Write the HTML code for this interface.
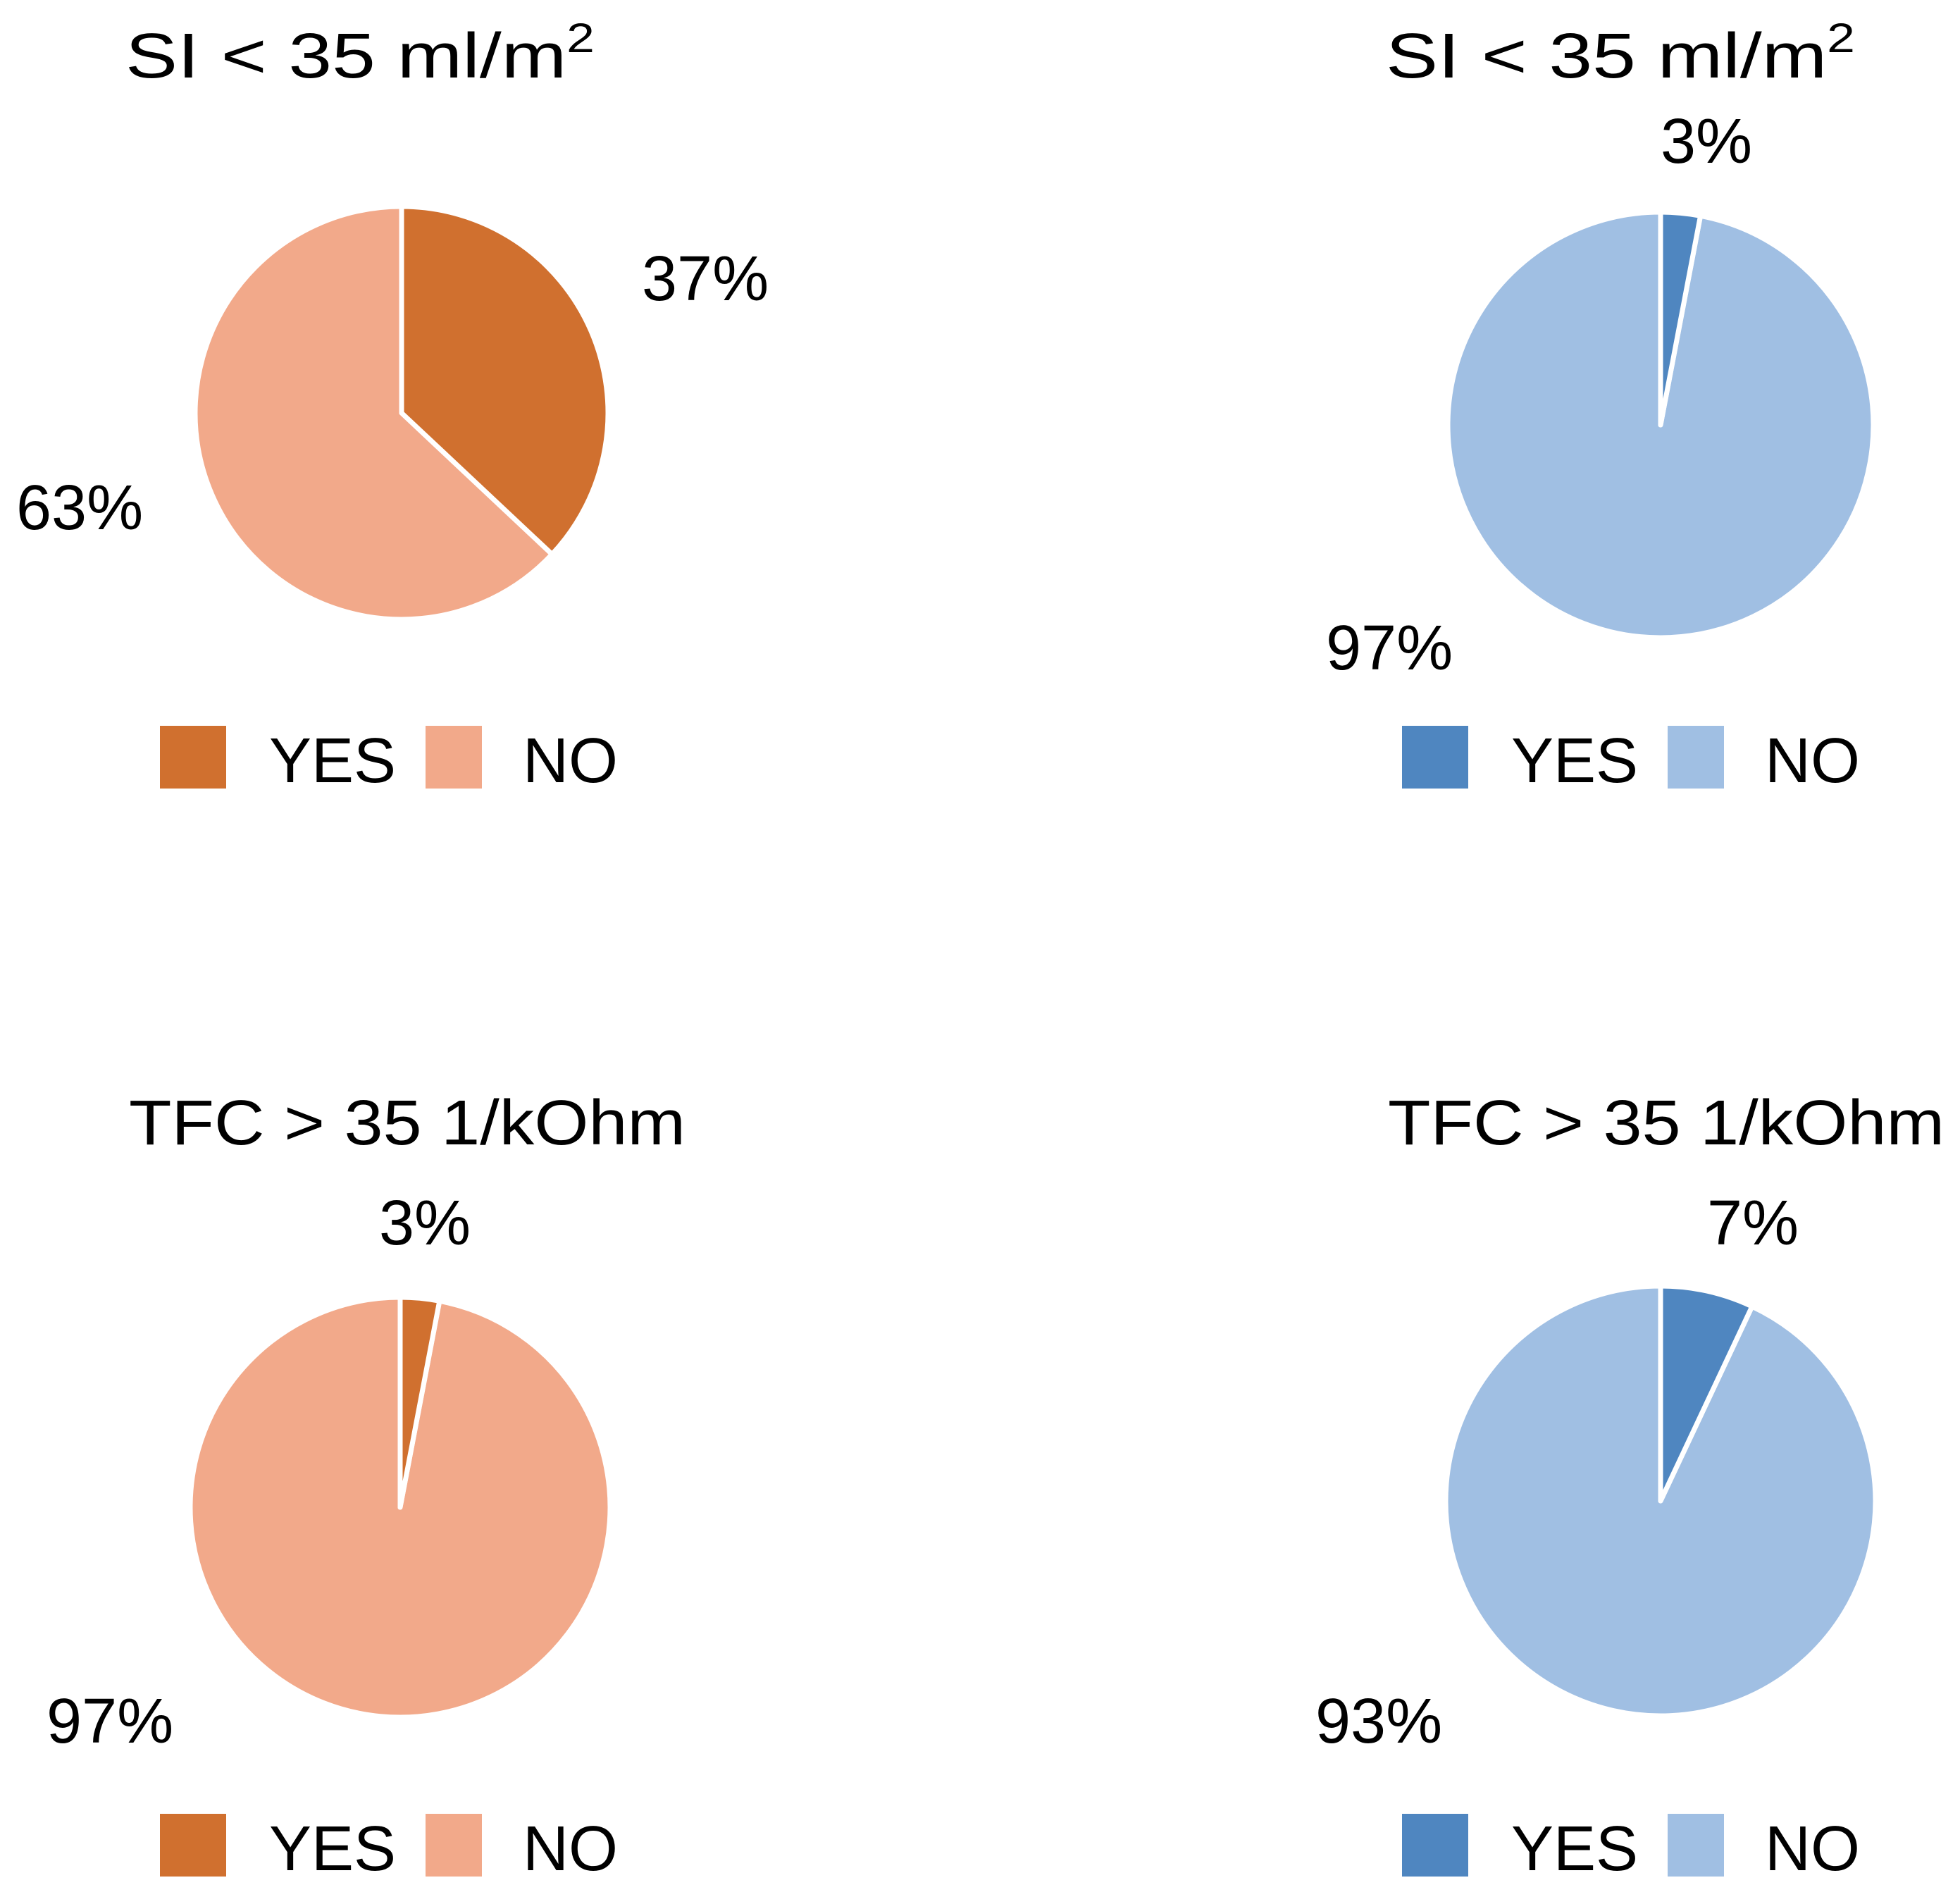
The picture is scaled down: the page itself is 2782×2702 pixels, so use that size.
<!DOCTYPE html>
<html><head><meta charset="utf-8"><style>
html,body{margin:0;padding:0;background:#fff;}
svg{display:block;font-family:"Liberation Sans",sans-serif;}
</style></head><body>
<svg id="chart" width="2782" height="2702" viewBox="0 0 2782 2702">
<rect width="2782" height="2702" fill="#fff"/>
</svg>
<script>
const titles = ["SI < 35 ml/m", "SI < 35 ml/m", "TFC > 35 1/kOhm", "TFC > 35 1/kOhm"];
const yesValues = [37, 3, 3, 7];
const noValues = [63, 97, 97, 93];
const categories = ["YES", "NO"];
const palettes = [["#d0702f","#f2a98a"],["#4f86c0","#a0bfe3"],["#d0702f","#f2a98a"],["#4f86c0","#a0bfe3"]];
const panels = [
 {cx:570,cy:586,r:293,tx:178,ty:110,tw:666,sup:true,yl:[911,426],nl:[23,751],lx:227,ly:1030},
 {cx:2357,cy:603,r:302,tx:1967,ty:110,tw:666,sup:true,yl:[2357,231],nl:[1882,950],lx:1990,ly:1030},
 {cx:568,cy:2139,r:298,tx:183,ty:1624,tw:790,sup:false,yl:[538,1766],nl:[66,2473],lx:227,ly:2574},
 {cx:2357,cy:2130,r:305,tx:1970,ty:1624,tw:790,sup:false,yl:[2423,1766],nl:[1867,2473],lx:1990,ly:2574}
];
const NS="http://www.w3.org/2000/svg";
const svg=document.getElementById('chart');
function mk(tag,attrs){const e=document.createElementNS(NS,tag);for(const k in attrs)e.setAttribute(k,attrs[k]);return e;}
function pt(p,a){return [p.cx+p.r*Math.sin(a),p.cy-p.r*Math.cos(a)];}
function slice(p,a0,a1,fill){
  const s=pt(p,a0),e=pt(p,a1),large=(a1-a0)>Math.PI?1:0;
  return mk('path',{d:`M${p.cx},${p.cy}L${s[0]},${s[1]}A${p.r},${p.r} 0 ${large} 1 ${e[0]},${e[1]}Z`,fill:fill,stroke:'#fff','stroke-width':7,'stroke-linejoin':'round'});
}
panels.forEach((p,i)=>{
  const g=mk('g',{});
  
  
  svg.appendChild(g);
  const t=mk('text',{x:p.tx,y:p.ty,'font-size':90,fill:'#000',textLength:p.tw,lengthAdjust:'spacingAndGlyphs'});
  
  
  t.textContent=titles[i];
  if(p.sup){const s=mk('tspan',{'font-size':58,dy:-36});s.textContent='2';t.appendChild(s);}
  g.appendChild(t);
  const total=yesValues[i]+noValues[i];
  const aY=yesValues[i]/total*2*Math.PI;
  const sy=slice(p,0,aY,palettes[i][0]);
  
  
  g.appendChild(sy);
  const sn=slice(p,aY,2*Math.PI,palettes[i][1]);
  
  
  g.insertBefore(sn,sy);
  const ly=mk('text',{x:p.yl[0],y:p.yl[1],'font-size':90,fill:'#000'});
  
  
  ly.textContent=yesValues[i]+'%';
  g.appendChild(ly);
  const ln=mk('text',{x:p.nl[0],y:p.nl[1],'font-size':90,fill:'#000'});
  
  
  ln.textContent=noValues[i]+'%';
  g.appendChild(ln);
  categories.forEach((c,j)=>{
    const x=p.lx+j*377;
    const sq=mk('rect',{x:x,y:p.ly,width:j?80:94,height:89,fill:palettes[i][j]});
    
    
    g.appendChild(sq);
    const lt=mk('text',{x:x+(j?138:155),y:p.ly+80,'font-size':90,fill:'#000'});
    
    
    lt.textContent=c;
    g.appendChild(lt);
  });
});
</script>
</body></html>
